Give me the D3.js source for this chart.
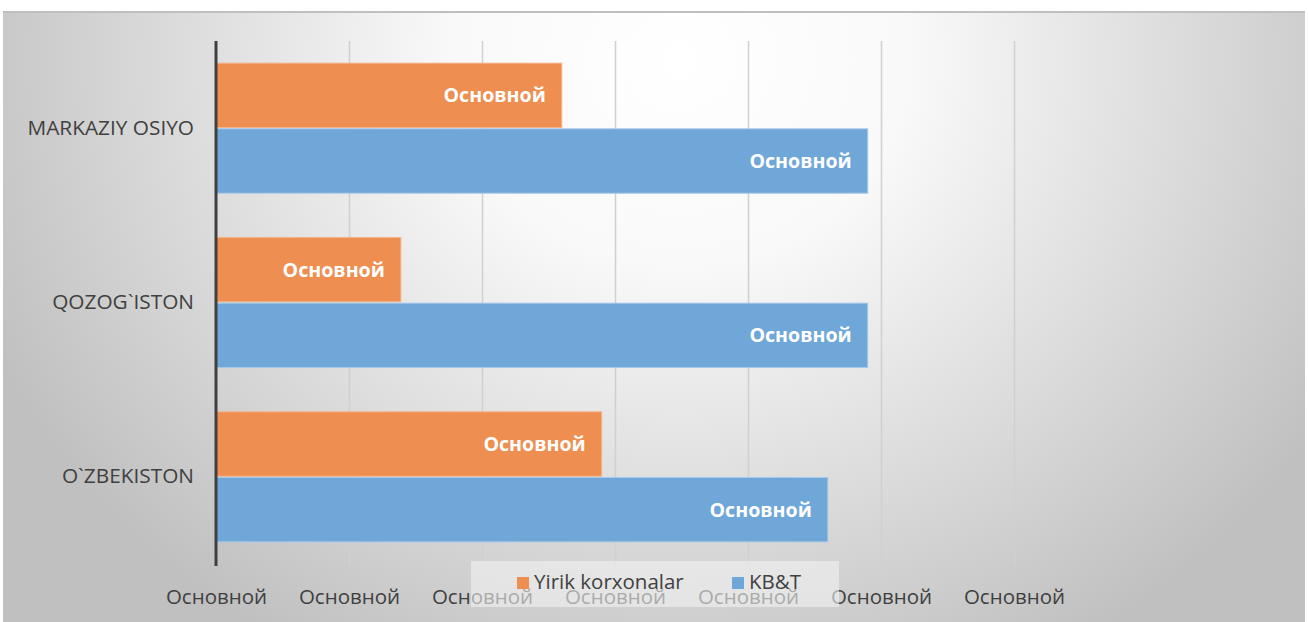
<!DOCTYPE html>
<html><head><meta charset="utf-8">
<script src="https://cdn.jsdelivr.net/npm/d3@7"></script>
<style>html,body{margin:0;padding:0;background:#fff;}svg{display:block;}</style>
</head><body>
<svg id="chart" width="1308" height="622"></svg>
<script>
const categories = ["MARKAZIY OSIYO", "QOZOG`ISTON", "O`ZBEKISTON"];
const seriesNames = ["Yirik korxonalar", "KB&T"];
const yirikValues = [26.0, 13.9, 29.0];
const kbtValues = [49.0, 49.0, 46.0];
const tickValues = [0, 10, 20, 30, 40, 50, 60];
const tickLabel = "Основной";
const dataLabel = "Основной";
const colors = ["#EE8E50", "#6FA7D9"];

const svg = d3.select("#chart");
const font = "'Open Sans', 'Noto Sans', sans-serif";

const defs = svg.append("defs");
const rg = defs.append("radialGradient").attr("id", "bg")
  .attr("gradientUnits", "userSpaceOnUse")
  .attr("cx", 680).attr("cy", 60).attr("r", 760)
  .attr("gradientTransform", "translate(680,60) scale(1,0.9) translate(-680,-60)");
rg.append("stop").attr("offset", 0).attr("stop-color", "#ffffff");
rg.append("stop").attr("offset", 0.3).attr("stop-color", "#f9f9f9");
rg.append("stop").attr("offset", 1).attr("stop-color", "#c0c0c0");

svg.append("rect").attr("x", 3).attr("y", 11).attr("width", 1302).attr("height", 611)
  .attr("fill", "url(#bg)");
svg.append("line").attr("x1", 3).attr("x2", 1305).attr("y1", 12).attr("y2", 12)
  .attr("stroke", "#bfbfbf").attr("stroke-width", 2);

const x = d3.scaleLinear().domain([0, 60]).range([216, 1014]);
const y = d3.scaleBand().domain(categories).range([41, 564]).paddingInner(0.254).paddingOuter(0.127);
const ySub = d3.scaleBand().domain(seriesNames).range([0, y.bandwidth()]).paddingInner(0.02);

// gridlines + tick labels
const xAxis = d3.axisBottom(x).tickValues(tickValues).tickSize(564 - 41 + 2).tickFormat(() => tickLabel);
const gx = svg.append("g").attr("transform", "translate(0,41)").call(xAxis);
gx.select(".domain").remove();
gx.selectAll(".tick line").attr("stroke", "#d0d0d0").attr("stroke-width", 1.5);
gx.selectAll(".tick text").attr("font-family", font).attr("font-size", 20.5)
  .attr("fill", "#404040").attr("y", 0).attr("dy", "0")
  .attr("transform", "translate(0,563)");

const series = [yirikValues, kbtValues];
const g = svg.append("g");
series.forEach((vals, si) => {
  g.selectAll(".bar" + si).data(categories).enter().append("rect")
    .attr("x", x(0))
    .attr("y", c => y(c) + ySub(seriesNames[si]))
    .attr("width", (c, i) => x(vals[i]) - x(0))
    .attr("height", ySub.bandwidth())
    .attr("fill", colors[si])
    .attr("stroke", si === 0 ? "#f4b58a" : "#a6c8e8").attr("stroke-width", 1);
  g.selectAll(".lab" + si).data(categories).enter().append("text")
    .attr("x", (c, i) => x(vals[i]) - 16)
    .attr("y", c => y(c) + ySub(seriesNames[si]) + ySub.bandwidth() / 2)
    .attr("dy", "0.35em")
    .attr("text-anchor", "end")
    .attr("font-family", font).attr("font-weight", "bold").attr("font-size", 19.6)
    .attr("fill", "#ffffff")
    .text(dataLabel);
});
// axis line on top of bars
svg.append("line").attr("x1", x(0)).attr("x2", x(0)).attr("y1", 41).attr("y2", 566)
  .attr("stroke", "#404040").attr("stroke-width", 3);

// category labels
const yAxis = d3.axisLeft(y).tickSize(0).tickPadding(22);
const gy = svg.append("g").attr("transform", "translate(216,0)").call(yAxis);
gy.select(".domain").remove();
gy.selectAll(".tick text").attr("font-family", font).attr("font-size", 20.8).attr("fill", "#404040");

// legend
const lg = svg.append("g");
lg.append("rect").attr("x", 471).attr("y", 561).attr("width", 368).attr("height", 46)
  .attr("fill", "#f2f2f2").attr("fill-opacity", 0.6);
const legendItems = [{name: seriesNames[0], x: 517, c: colors[0]}, {name: seriesNames[1], x: 732, c: colors[1]}];
legendItems.forEach(it => {
  lg.append("rect").attr("x", it.x).attr("y", 577).attr("width", 12).attr("height", 12).attr("fill", it.c);
  lg.append("text").attr("x", it.x + 17).attr("y", 582).attr("dy", "0.35em")
    .attr("font-family", font).attr("font-size", 20.5).attr("fill", "#404040").text(it.name);
});
</script>
</body></html>
